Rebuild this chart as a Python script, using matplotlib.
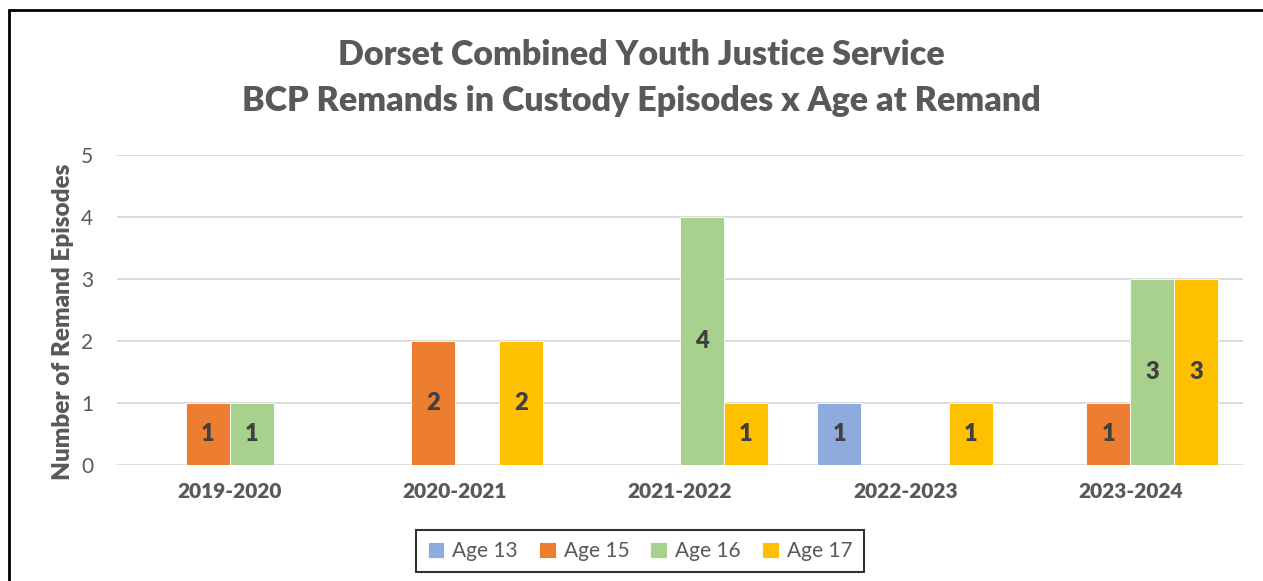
import matplotlib.pyplot as plt
import numpy as np
from matplotlib.patches import Rectangle

plt.rcParams['font.family'] = ['Lato', 'DejaVu Sans']

# Dados
anos = ['2019-2020', '2020-2021', '2021-2022', '2022-2023', '2023-2024']
series = ['Age 13', 'Age 15', 'Age 16', 'Age 17']
age13 = [0, 0, 0, 1, 0]
age15 = [1, 2, 0, 0, 1]
age16 = [1, 0, 4, 0, 3]
age17 = [0, 2, 1, 1, 3]
valores = [age13, age15, age16, age17]

cores = ['#8FAADC', '#ED7D31', '#A9D18E', '#FFC000']
cinza = '#595959'

fig = plt.figure(figsize=(12.63, 5.81), dpi=100)
ax = fig.add_axes([117 / 1263, 1 - 465 / 581, (1243 - 117) / 1263, 310 / 581])

# moldura da figura
fig.patches.append(Rectangle((9 / 1263, -0.05), 1.1, 1 - 10 / 581 + 0.05,
                             transform=fig.transFigure, fill=False,
                             edgecolor='black', linewidth=2))

x = np.arange(len(anos))
largura = 0.195

for i, (nome, vals) in enumerate(zip(series, valores)):
    pos = x + (i - 1.5) * largura
    barras = ax.bar(pos, vals, width=largura, color=cores[i], label=nome,
                    edgecolor='white', linewidth=0.6, zorder=3)
    for b, v in zip(barras, vals):
        if v > 0:
            ax.text(b.get_x() + b.get_width() / 2, v / 2, str(v),
                    ha='center', va='center', fontsize=17,
                    fontweight='heavy', color='#404040', zorder=4)

ax.set_xlim(-0.5, len(anos) - 0.5)
ax.set_ylim(0, 5)
ax.set_yticks(range(6))
ax.yaxis.grid(True, color='#D9D9D9', linewidth=1.3, zorder=0)
ax.set_axisbelow(True)
for s in ax.spines.values():
    s.set_visible(False)
ax.tick_params(axis='both', length=0, colors=cinza, labelsize=15)
ax.tick_params(axis='y', pad=17)
ax.tick_params(axis='x', pad=12)
ax.set_xticks(x)
ax.set_xticklabels(anos, fontweight='heavy', fontsize=15)
ax.set_ylabel('Number of Remand Episodes', fontsize=17.5, fontweight='heavy',
              color=cinza)
ax.yaxis.set_label_coords(-0.038, 0.461)

fig.text(0.508, 1 - 55 / 581, 'Dorset Combined Youth Justice Service',
         ha='center', va='center', fontsize=24.5, fontweight='heavy', color=cinza)
fig.text(0.508, 1 - 101 / 581, 'BCP Remands in Custody Episodes x Age at Remand',
         ha='center', va='center', fontsize=24.5, fontweight='heavy', color=cinza)

leg = ax.legend(loc='center', bbox_to_anchor=(0.5 + (640 - 680) / 1126, 1 - (551 - 155) / 310),
                ncol=4, frameon=True, fontsize=15, handlelength=0.8,
                handleheight=0.8, columnspacing=1.0, handletextpad=0.4,
                borderpad=0.55, fancybox=False)
leg.get_frame().set_edgecolor('black')
leg.get_frame().set_linewidth(1.5)
for t in leg.get_texts():
    t.set_color(cinza)

fig.savefig('out.png', dpi=100)
